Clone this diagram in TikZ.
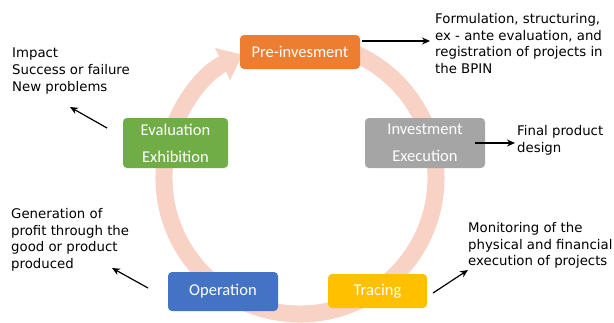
\documentclass[tikz,border=0pt]{standalone}
\usepackage{fontspec}
\setmainfont{DejaVu Sans}
\newfontfamily\boxfont{Carlito}
\usetikzlibrary{arrows.meta}

\definecolor{ringpink}{RGB}{248,210,196}
\definecolor{preorange}{RGB}{237,125,49}
\definecolor{evalgreen}{RGB}{112,173,71}
\definecolor{invgray}{RGB}{165,165,165}
\definecolor{opblue}{RGB}{68,114,196}
\definecolor{tracegold}{RGB}{255,192,0}

\tikzset{
  stage/.style={rounded corners=4pt, inner sep=0pt, text=white,
    font={\boxfont\fontsize{16.5}{27}\selectfont}, align=center},
  note/.style={anchor=north west, inner sep=0pt, align=left,
    font={\fontsize{13.3}{16.7}\selectfont}},
  pointer/.style={line width=1.2pt, -{Stealth[length=8pt,width=7pt]}},
  ring/.style={draw=ringpink, line width=17pt,
    -{Triangle[length=22pt 0 0,width=34pt 0 0]}}
}

\begin{document}
\begin{tikzpicture}[x=1pt,y=-1pt]
\useasboundingbox (0,0) rectangle (614,322);

% the cycle ring, drawn behind the stage boxes
\draw[ring] (300,178) ++(-80:136) arc[start angle=-80, end angle=245, radius=136];

% stage boxes
\node[stage, fill=preorange, minimum width=120pt, minimum height=34pt] (pre) at (300,52) {Pre-invesment};
\node[stage, fill=evalgreen, minimum width=105pt, minimum height=50pt] (eval) at (175.5,143) {Evaluation\\Exhibition};
\node[stage, fill=invgray, minimum width=120pt, minimum height=50pt] (inv) at (425,143) {Investment\\Execution};
\node[stage, fill=opblue, minimum width=110pt, minimum height=39pt] (oper) at (223,291.5) {Operation};
\node[stage, fill=tracegold, minimum width=99pt, minimum height=34pt] (trac) at (377.5,291) {Tracing};

% notes
\node[note] (npre) at (435,13) {Formulation, structuring,\\ex - ante evaluation, and\\registration of projects in\\the BPIN};
\node[note] (ninv) at (517,125) {Final product\\design};
\node[note] (neval) at (12,48) {Impact\\Success or failure\\New problems};
\node[note] (noper) at (11,208) {Generation of\\profit through the\\good or product\\produced};
\node[note] (ntrac) at (468,222) {Monitoring of the\\physical and financial\\execution of projects};

% pointer end points
\coordinate (p1s) at (362,41);  \coordinate (p1e) at (430,41);
\coordinate (p2s) at (475,143); \coordinate (p2e) at (515,143);
\coordinate (p3s) at (107,128); \coordinate (p3e) at (70,107);
\coordinate (p4s) at (148,288); \coordinate (p4e) at (112,268);
\coordinate (p5s) at (433,293); \coordinate (p5e) at (468,270);

\draw[pointer] (p1s) -- (p1e);
\draw[pointer] (p2s) -- (p2e);
\draw[pointer] (p3s) -- (p3e);
\draw[pointer] (p4s) -- (p4e);
\draw[pointer] (p5s) -- (p5e);
\end{tikzpicture}
\end{document}
